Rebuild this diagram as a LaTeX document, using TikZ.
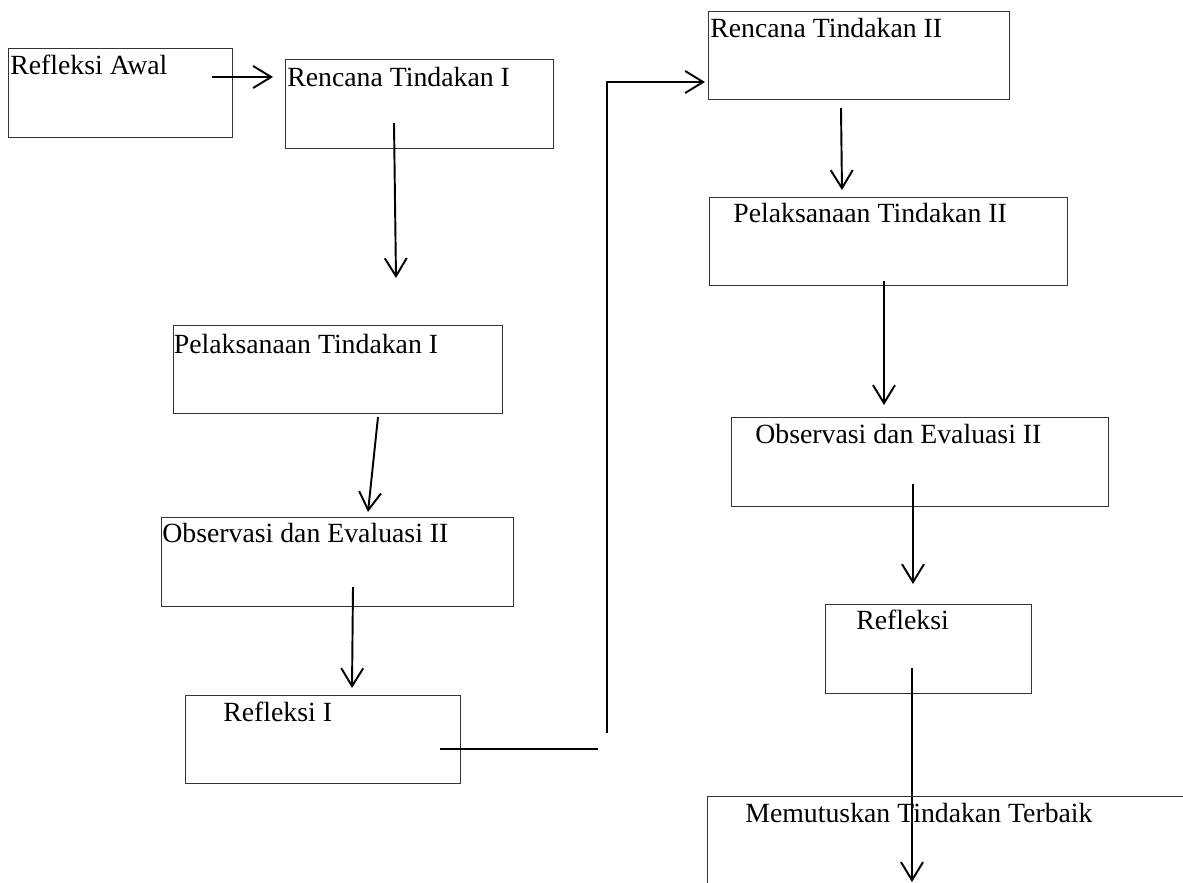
\documentclass[tikz,border=0pt]{standalone}
\usepackage{fontspec}
\setmainfont{Liberation Serif}
\usetikzlibrary{arrows.meta}
\tikzset{
	kotak/.style={draw=black!80,line width=.7pt,anchor=north west,inner sep=0pt},
	teks/.style={anchor=base west,inner sep=0pt,font=\fontsize{15.8}{19}\selectfont},
	panah/.style={line width=1.1pt,-{Straight Barb[length=3.6mm,width=4.4mm]}},
	garis/.style={line width=1.1pt},
}
\begin{document}
\begin{tikzpicture}%  siklus tindakan
		\useasboundingbox (0,0) rectangle (23.66,-17.66);
		\clip (0,0) rectangle (23.66,-17.66);
		
		\node[kotak,minimum width=4.48cm,minimum height=1.78cm] (awal) at (0.16,-0.96) {};
		\node[kotak,minimum width=5.36cm,minimum height=1.78cm] (rt1) at (5.70,-1.18) {};
		\node[kotak,minimum width=6.58cm,minimum height=1.76cm] (pt1) at (3.46,-6.50) {};
		\node[kotak,minimum width=7.04cm,minimum height=1.78cm] (oe1) at (3.22,-10.34) {};
		\node[kotak,minimum width=5.50cm,minimum height=1.76cm] (ref1) at (3.70,-13.90) {};
		\node[kotak,minimum width=6.02cm,minimum height=1.76cm] (rt2) at (14.16,-0.22) {};
		\node[kotak,minimum width=7.16cm,minimum height=1.76cm] (pt2) at (14.18,-3.94) {};
		\node[kotak,minimum width=7.54cm,minimum height=1.78cm] (oe2) at (14.62,-8.34) {};
		\node[kotak,minimum width=4.12cm,minimum height=1.78cm] (ref2) at (16.50,-12.08) {};
		\node[kotak,minimum width=10cm,minimum height=1.78cm] (akhir) at (14.14,-15.92) {};
		
		\node[teks] (awal-t) at (0.20,-1.48) {Refleksi Awal};
		\node[teks] (rt1-t) at (5.74,-1.72) {Rencana Tindakan I};
		\node[teks] (pt1-t) at (3.47,-7.06) {Pelaksanaan Tindakan I};
		\node[teks] (oe1-t) at (3.24,-10.84) {Observasi dan Evaluasi II};
		\node[teks] (ref1-t) at (4.46,-14.42) {Refleksi I};
		\node[teks] (rt2-t) at (14.20,-0.74) {Rencana Tindakan II};
		\node[teks] (pt2-t) at (14.66,-4.44) {Pelaksanaan Tindakan II};
		\node[teks] (oe2-t) at (15.10,-8.86) {Observasi dan Evaluasi II};
		\node[teks] (ref2-t) at (17.12,-12.58) {Refleksi};
		\node[teks] (akhir-t) at (14.90,-16.44) {Memutuskan Tindakan Terbaik};
		
		\coordinate (a1) at (4.24,-1.54);  \coordinate (a2) at (5.46,-1.54);
		\coordinate (b1) at (7.88,-2.46);  \coordinate (b2) at (7.92,-5.56);
		\coordinate (c1) at (7.56,-8.34);  \coordinate (c2) at (7.36,-10.24);
		\coordinate (d1) at (7.06,-11.74); \coordinate (d2) at (7.04,-13.76);
		\coordinate (e1) at (8.80,-14.98); \coordinate (e2) at (11.96,-14.98);
		\coordinate (f1) at (12.14,-14.66); \coordinate (f2) at (14.10,-1.64);
		\coordinate (g1) at (16.82,-2.16); \coordinate (g2) at (16.84,-3.80);
		\coordinate (h1) at (17.68,-5.62); \coordinate (h2) at (17.68,-8.10);
		\coordinate (i1) at (18.26,-9.68); \coordinate (i2) at (18.26,-11.68);
		\coordinate (j1) at (18.24,-13.36); \coordinate (j2) at (18.24,-17.64);
		
		\draw[panah] (a1)--(a2);
		\draw[panah] (b1)--(b2);
		\draw[panah] (c1)--(c2);
		\draw[panah] (d1)--(d2);
		\draw[garis] (e1)--(e2);
		\draw[panah] (f1)|-(f2);
		\draw[panah] (g1)--(g2);
		\draw[panah] (h1)--(h2);
		\draw[panah] (i1)--(i2);
		\draw[panah] (j1)--(j2);
		\end{tikzpicture}
\end{document}
